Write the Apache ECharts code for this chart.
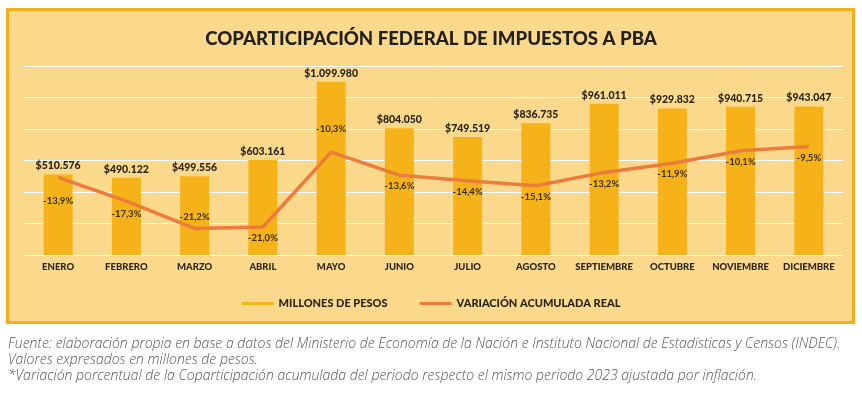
<!DOCTYPE html>
<html>
<head>
<meta charset="utf-8">
<script src="https://cdn.jsdelivr.net/npm/echarts@6/dist/echarts.min.js"></script>
<style>
html,body{margin:0;padding:0;background:#ffffff;}
#chart{width:862px;height:398px;}
</style>
</head>
<body>
<div id="chart"></div>
<script>
const months = ['ENERO','FEBRERO','MARZO','ABRIL','MAYO','JUNIO','JULIO','AGOSTO','SEPTIEMBRE','OCTUBRE','NOVIEMBRE','DICIEMBRE'];
const millonesDePesos = [510576, 490122, 499556, 603161, 1099980, 804050, 749519, 836735, 961011, 929832, 940715, 943047];
const variacionAcumulada = [-13.9, -17.3, -21.2, -21.0, -10.3, -13.6, -14.4, -15.1, -13.2, -11.9, -10.1, -9.5];
const titleText = 'COPARTICIPACIÓN FEDERAL DE IMPUESTOS A PBA';
const seriesNames = ['MILLONES DE PESOS', 'VARIACIÓN ACUMULADA REAL'];
const footnotes = [
  'Fuente: elaboración propia en base a datos del Ministerio de Economía de la Nación e Instituto Nacional de Estadísticas y Censos (INDEC).',
  'Valores expresados en millones de pesos.',
  '*Variación porcentual de la Coparticipación acumulada del periodo respecto el mismo periodo 2023 ajustada por inflación.'
];

const BAR = '#F6B219';
const LINE = '#EC7B3C';
const BG = '#FBD98C';
const TXT = '#2b2418';

function fmtMoney(v){
  return '$' + String(v).replace(/\B(?=(\d{3})+(?!\d))/g, '.');
}
function fmtPct(v){
  return v.toFixed(1).replace('.', ',') + '%';
}

// label placement for the line (style only)
const labelAbove = {MARZO: true, MAYO: true};
const labelExtraDist = {ENERO: 13, FEBRERO: 2, MAYO: 12};

const lineData = variacionAcumulada.map((v, i) => {
  const m = months[i];
  return {
    value: v,
    label: {
      show: true,
      position: labelAbove[m] ? 'top' : 'bottom',
      distance: 6 + (labelExtraDist[m] || 0)
    }
  };
});

const chart = echarts.init(document.getElementById('chart'));
chart.setOption({
  backgroundColor: '#ffffff',
  animation: false,
  graphic: [
    {
      type: 'rect', z: -10, silent: true,
      shape: {x: 7.5, y: 9.5, width: 846, height: 313},
      style: {fill: BG, stroke: '#F4AE18', lineWidth: 3}
    },
    ...footnotes.map((t, i) => ({
      type: 'text', left: 8, top: 337 + i * 16, silent: true,
      style: {text: t, fill: '#555555', font: 'italic 300 14px "Open Sans"'}
    }))
  ],
  title: {
    text: titleText,
    left: 'center',
    top: 24,
    textStyle: {fontFamily: 'Lato', fontWeight: 900, fontSize: 18.6, color: '#231f1a'}
  },
  legend: {
    data: seriesNames.map(n => ({name: n, icon: 'rect'})),
    bottom: 84,
    left: 'center',
    itemWidth: 32,
    itemHeight: 3,
    itemGap: 32,
    textStyle: {fontFamily: 'Lato', fontWeight: 900, fontSize: 11, color: TXT}
  },
  grid: {left: 24, right: 19, top: 66, bottom: 143, containLabel: false},
  xAxis: {
    type: 'category',
    data: months,
    axisLine: {show: false},
    axisTick: {show: false},
    axisLabel: {fontFamily: 'Lato', fontWeight: 900, fontSize: 9.5, color: TXT, margin: 7, interval: 0}
  },
  yAxis: [
    {
      type: 'value', min: 0, max: 1200000, interval: 200000,
      axisLabel: {show: false}, axisLine: {show: false}, axisTick: {show: false},
      splitLine: {lineStyle: {color: '#ffffff', width: 1}}
    },
    {
      type: 'value', min: -25, max: 2,
      axisLabel: {show: false}, axisLine: {show: false}, axisTick: {show: false},
      splitLine: {show: false}
    }
  ],
  series: [
    {
      name: seriesNames[0],
      type: 'bar',
      data: millonesDePesos,
      barWidth: 29,
      itemStyle: {color: BAR},
      label: {
        show: true, position: 'top', distance: 3,
        formatter: p => fmtMoney(p.value),
        fontFamily: 'Lato', fontWeight: 900, fontSize: 10.5, color: TXT
      },
      z: 2
    },
    {
      name: seriesNames[1],
      type: 'line',
      yAxisIndex: 1,
      data: lineData,
      symbol: 'circle',
      symbolSize: 0.1,
      showSymbol: true,
      lineStyle: {color: LINE, width: 3.5},
      itemStyle: {color: LINE},
      label: {
        show: true,
        formatter: p => fmtPct(p.value),
        fontFamily: 'Lato', fontWeight: 700, fontSize: 9.5, color: '#3a2e14'
      },
      z: 3
    }
  ]
});
</script>
</body>
</html>
